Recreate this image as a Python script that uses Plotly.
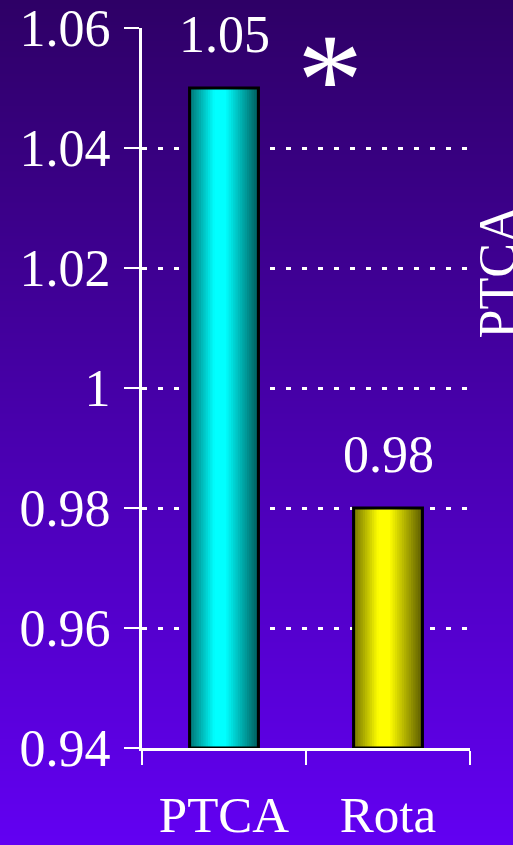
import base64
import struct
import zlib

import plotly.graph_objects as go

# ---------------- data ----------------
categories = ["PTCA", "Rota"]
values = [1.05, 0.98]
value_labels = ["1.05", "0.98"]
y_tickvals = [0.94, 0.96, 0.98, 1.00, 1.02, 1.04, 1.06]
y_ticktext = ["0.94", "0.96", "0.98", "1", "1.02", "1.04", "1.06"]
side_title = "PTCA"
star_text = "*"

# ---------------- style ----------------
W, H = 513, 845
ML, MR, MT, MB = 142, 43, 28, 97
Y_RANGE = [0.94, 1.06]
FONT = "Liberation Serif, Times New Roman, serif"
BAR_W = 0.42
N_STRIPS = 30
bar_hues = [(0, 255, 255), (255, 255, 0)]


def shade(t):
    # brightness profile across a bar (left -> right)
    if t < 0.36:
        return 0.45 + 0.55 * (t / 0.36)
    if t < 0.52:
        return 1.0
    return 1.0 - 0.65 * ((t - 0.52) / 0.48)


def rgb(c, b):
    return "rgb(%d,%d,%d)" % tuple(int(round(v * b)) for v in c)


def gradient_png(w, h, top, bottom):
    raw = b""
    for yy in range(h):
        f = yy / (h - 1)
        px = bytes(int(round(top[i] + (bottom[i] - top[i]) * f)) for i in range(3))
        raw += b"\x00" + px * w

    def chunk(tag, data):
        c = struct.pack(">I", len(data)) + tag + data
        return c + struct.pack(">I", zlib.crc32(tag + data) & 0xFFFFFFFF)

    png = b"\x89PNG\r\n\x1a\n"
    png += chunk(b"IHDR", struct.pack(">IIBBBBB", w, h, 8, 2, 0, 0, 0))
    png += chunk(b"IDAT", zlib.compress(raw, 9))
    png += chunk(b"IEND", b"")
    return "data:image/png;base64," + base64.b64encode(png).decode()


fig = go.Figure()

strip_w = BAR_W / N_STRIPS
for i in range(N_STRIPS):
    t = (i + 0.5) / N_STRIPS
    b = shade(t)
    start = -BAR_W / 2 + i * strip_w
    fig.add_trace(go.Bar(
        x=categories, y=[v - Y_RANGE[0] for v in values], base=Y_RANGE[0],
        width=BAR_W / 2 - start, offset=start,
        marker=dict(color=[rgb(c, b) for c in bar_hues], line=dict(width=0)),
        showlegend=False, hoverinfo="skip",
    ))

# outline
fig.add_trace(go.Bar(
    x=categories, y=[v - Y_RANGE[0] for v in values], base=Y_RANGE[0],
    width=BAR_W, offset=-BAR_W / 2,
    marker=dict(color="rgba(0,0,0,0)", line=dict(color="black", width=3)),
    showlegend=False, hoverinfo="skip",
))

annotations = []
for c, v, lab in zip(categories, values, value_labels):
    annotations.append(dict(
        x=c, y=v, text=lab, showarrow=False, xanchor="center", yanchor="bottom",
        yshift=23, font=dict(family=FONT, size=52, color="white"),
    ))

plot_w = W - ML - MR
plot_h = H - MT - MB

# asterisk
annotations.append(dict(
    x=0.646, y=1.0535, xref="x", yref="y", text=star_text, showarrow=False,
    xanchor="center", yanchor="middle", yshift=-12,
    font=dict(family=FONT, size=132, color="white"),
))

# side title (clipped by the right edge, as in the original)
annotations.append(dict(
    x=(466 - ML) / plot_w, y=(H - MB - 272) / plot_h, xref="paper", yref="paper",
    text=side_title, showarrow=False, textangle=-90,
    xanchor="left", yanchor="middle",
    font=dict(family=FONT, size=52, color="white"),
))

bg = gradient_png(1, H, (46, 0, 102), (98, 0, 242))

fig.update_layout(
    width=W, height=H,
    margin=dict(l=ML, r=MR, t=MT, b=MB, pad=0, autoexpand=False),
    barmode="overlay",
    paper_bgcolor="#4a00b4",
    plot_bgcolor="rgba(0,0,0,0)",
    showlegend=False,
    annotations=annotations,
    images=[dict(
        source=bg, xref="paper", yref="paper",
        x=-ML / plot_w, y=(H - MB) / plot_h,
        sizex=W / plot_w, sizey=H / plot_h,
        xanchor="left", yanchor="top", sizing="stretch", layer="below",
    )],
    xaxis=dict(
        type="category", range=[-0.5, 1.5], automargin=False,
        showline=True, linecolor="white", linewidth=3,
        ticks="outside", tickson="boundaries", ticklen=14, tickwidth=2,
        tickcolor="white", showgrid=False,
        tickfont=dict(family=FONT, size=51, color="white"),
        ticklabelstandoff=20,
    ),
    yaxis=dict(
        range=Y_RANGE, tickvals=y_tickvals, ticktext=y_ticktext, automargin=False,
        showline=True, linecolor="white", linewidth=3,
        ticks="outside", ticklen=15, tickwidth=2, tickcolor="white",
        showgrid=True, gridcolor="white", gridwidth=3, griddash="5px,11px",
        zeroline=False,
        tickfont=dict(family=FONT, size=52, color="white"),
        ticklabelstandoff=3,
    ),
)

fig.write_html("out.html")
